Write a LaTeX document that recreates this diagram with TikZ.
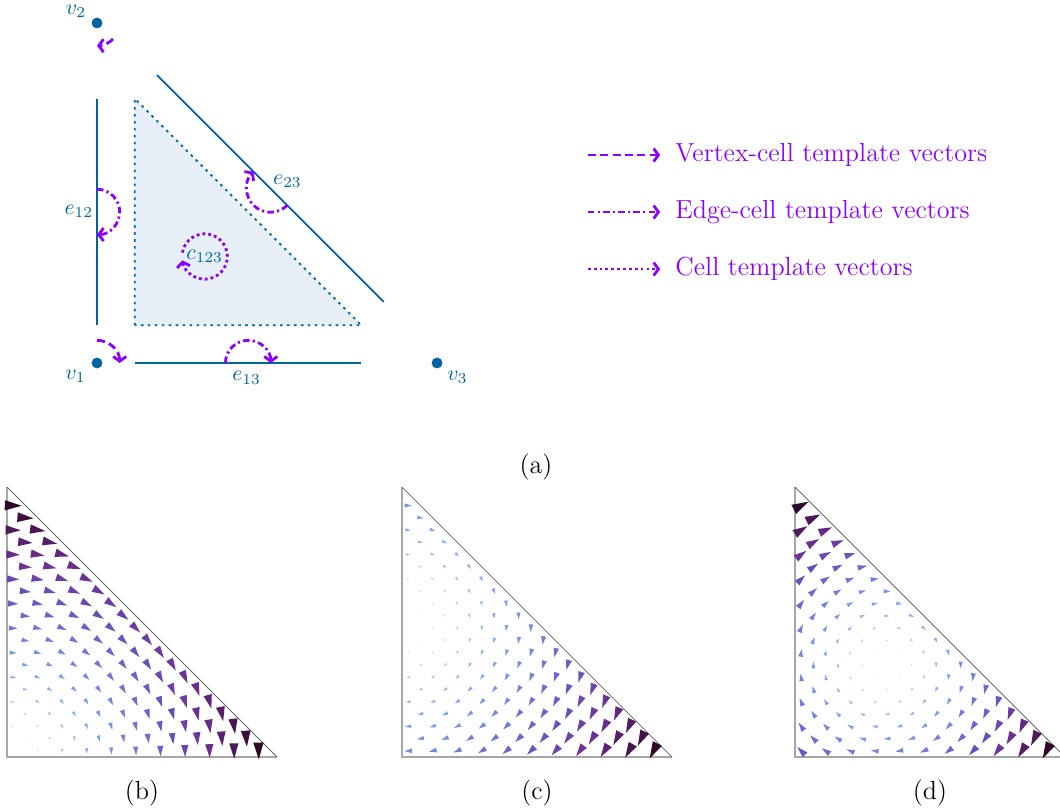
\documentclass[tikz,border=0pt]{standalone}
\usepackage{amsmath}
\usepackage{xcolor}
\usetikzlibrary{arrows.meta,calc}

\definecolor{meshblue}{RGB}{0,100,160}
\definecolor{tmplviolet}{RGB}{140,0,255}

% one cone of a clockwise rotation about (#3,#4), #5 = largest length
\newcommand{\rotglyph}[5]{%
  \pgfmathsetmacro\gx{#1}%
  \pgfmathsetmacro\gy{#2}%
  \pgfmathsetmacro\vx{\gy-(#4)}%
  \pgfmathsetmacro\vy{(#3)-\gx}%
  \pgfmathsetmacro\tv{min(sqrt(\vx*\vx+\vy*\vy)/(#5),1)}%
  \ifdim\tv pt>0.02pt
    \pgfmathsetmacro\gang{atan2(\vy,\vx)}%
    \pgfmathsetmacro\ka{min(\tv/0.35,1)}%
    \pgfmathsetmacro\kb{min(max((\tv-0.35)/0.25,0),1)}%
    \pgfmathsetmacro\kc{min(max((\tv-0.6)/0.2,0),1)}%
    \pgfmathsetmacro\kd{max((\tv-0.8)/0.2,0)}%
    \pgfmathsetmacro\colr{0.90-0.40*\ka-0.08*\kb-0.24*\kd}%
    \pgfmathsetmacro\colg{0.94-0.29*\ka-0.27*\kb-0.20*\kc-0.15*\kd}%
    \pgfmathsetmacro\colb{0.99-0.07*\ka-0.12*\kb-0.25*\kc-0.39*\kd}%
    \definecolor{gcol}{rgb}{\colr,\colg,\colb}%
    \fill[gcol,shift={(\gx,\gy)},rotate=\gang]
      (0.031*\tv,0) -- (-0.031*\tv,0.019*\tv) -- (-0.031*\tv,-0.019*\tv) -- cycle;
  \fi
}
% two cones in every cell of an 11x11 grid, kept inside the unit triangle
\newcommand{\rotglyphs}[3]{%
  \foreach \i in {0,...,10}{%
    \foreach \j in {0,...,10}{%
      \ifnum\numexpr\i+\j\relax<11 \rotglyph{(\i+0.25)/11}{(\j+0.25)/11}{#1}{#2}{#3}\fi
      \ifnum\numexpr\i+\j\relax<10 \rotglyph{(\i+0.75)/11}{(\j+0.75)/11}{#1}{#2}{#3}\fi
    }%
  }%
}

\begin{document}
\begin{tikzpicture}[x=1.8324cm,y=1.8324cm,
  meshline/.style={draw=meshblue,line width=0.8pt},
  vtxdot/.style={circle,fill=meshblue,inner sep=0pt,minimum size=5pt},
  lbl/.style={text=meshblue,inner sep=0pt},
  tmpl/.style={draw=tmplviolet,line width=1.3pt,-{Straight Barb[length=2.2pt,width=6pt]}},
  vtxtmpl/.style={tmpl,dash pattern=on 3.7pt off 2pt},
  edgetmpl/.style={tmpl,dash pattern=on 3pt off 1.5pt on 1pt off 1.5pt},
  celltmpl/.style={tmpl,dash pattern=on 1.3pt off 1.4pt},
  legtext/.style={text=tmplviolet,font=\large,anchor=west,inner sep=0pt},
  plotaxis/.style={draw=black!35,line width=0.9pt},
  plothyp/.style={draw=black!60,line width=0.4pt}]
  \useasboundingbox (-0.856,-3.953) rectangle (8.497,3.203);

  % (a) reference triangle
  \filldraw[fill=meshblue!10,draw=meshblue,line width=0.8pt,dash pattern=on 1.2pt off 2pt]
    (1/3,1/3) -- (1/3,7/3) -- (7/3,1/3) -- cycle;
  \coordinate (e12a) at (0,1/3);     \coordinate (e12b) at (0,7/3);
  \coordinate (e13a) at (1/3,0);     \coordinate (e13b) at (7/3,0);
  \coordinate (e23a) at (0.53,2.54); \coordinate (e23b) at (2.53,0.54);
  \draw[meshline] (e12a) -- (e12b);
  \draw[meshline] (e13a) -- (e13b);
  \draw[meshline] (e23a) -- (e23b);
  \coordinate (m12) at ($(e12a)!0.5!(e12b)$);
  \coordinate (m13) at ($(e13a)!0.5!(e13b)$);
  \coordinate (m23) at ($(e23a)!0.5!(e23b)$);

  \node[vtxdot] (v1) at (0,0) {};
  \node[vtxdot] (v2) at (0,3) {};
  \node[vtxdot] (v3) at (3,0) {};
  \node[lbl] (v1lab) at (-0.19,-0.12) {$v_1$};
  \node[lbl] (v2lab) at (-0.185,3.10) {$v_2$};
  \node[lbl] (v3lab) at (3.18,-0.124) {$v_3$};
  \node[lbl] (e12lab) at (-0.16,1.34) {$e_{12}$};
  \node[lbl] (e13lab) at (1.32,-0.13) {$e_{13}$};
  \node[lbl] (e23lab) at (1.68,1.60) {$e_{23}$};
  \node[lbl] (c123) at (0.95,0.94) {$c_{123}$};

  \draw[vtxtmpl] ($(v1)+(90:0.2)$) arc[start angle=90,end angle=0,radius=0.2];
  \draw[vtxtmpl] ($(v2)+(-45:0.2)$) arc[start angle=-45,end angle=-90,radius=0.2];
  \draw[edgetmpl] ($(m12)+(90:0.2)$) arc[start angle=90,end angle=-90,radius=0.2];
  \draw[edgetmpl] ($(m13)+(180:0.2)$) arc[start angle=180,end angle=0,radius=0.2];
  \draw[edgetmpl] ($(m23)+(-45:0.21)$) arc[start angle=-45,end angle=-225,radius=0.21];
  \draw[celltmpl] ($(c123)+(170:0.2)$) arc[start angle=170,end angle=-170,radius=0.2];

  % legend
  \foreach \st/\y/\lab [count=\k] in {vtxtmpl/1.835/Vertex-cell template vectors,
      edgetmpl/1.332/Edge-cell template vectors, celltmpl/0.829/Cell template vectors}{
    \node[legtext] (leg\k) at (5.10,\y) {\lab};
    \draw[\st] ([xshift=-1.41cm]leg\k.west) -- ([xshift=-0.24cm]leg\k.west);
  }
  \node[font=\large] (capa) at (3.874,-0.918) {(a)};

  % (b)-(d) rotation fields
  \foreach \ox/\cx/\cy/\vm/\nm in {-0.794/0/0/0.93/b, 2.691/0/0.5/1.05/c,
      6.159/0.3333/0.3333/0.675/d}{
    \begin{scope}[shift={(\ox,-3.477)},x={(2.382,0)},y={(0,2.382)}]
      \draw[plotaxis] (0,1) -- (0,0) -- (1,0);
      \draw[plothyp] (0,1) -- (1,0);
      \rotglyphs{\cx}{\cy}{\vm}
      \node[font=\large] (cap\nm) at (0.5,-0.134) {(\nm)};
    \end{scope}
  }
\end{tikzpicture}
\end{document}
